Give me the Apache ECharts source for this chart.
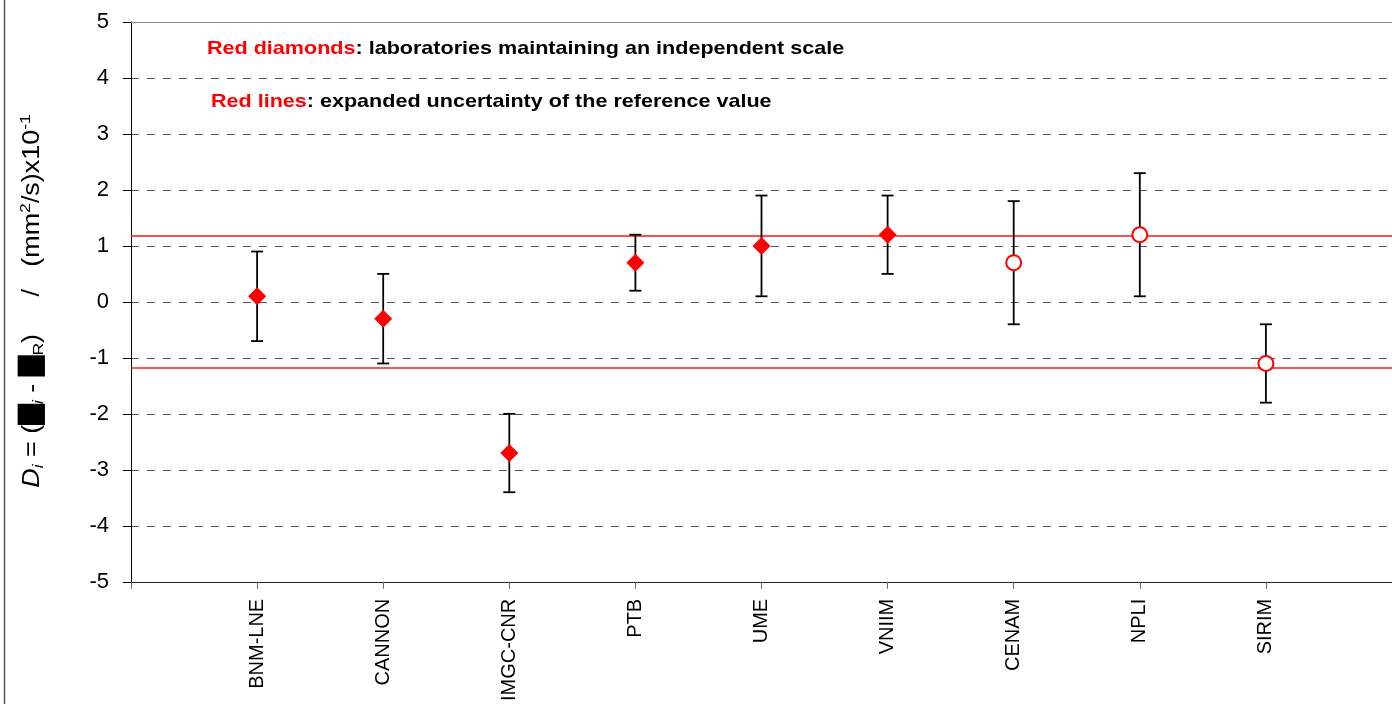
<!DOCTYPE html>
<html>
<head>
<meta charset="utf-8">
<script src="https://cdn.jsdelivr.net/npm/echarts@6/dist/echarts.min.js"></script>
<style>
html,body{margin:0;padding:0;background:#fff;}
#chart{width:1392px;height:704px;}
</style>
</head>
<body>
<div id="chart"></div>
<script>
const labs = ['BNM-LNE','CANNON','IMGC-CNR','PTB','UME','VNIIM','CENAM','NPLI','SIRIM'];
const values = [0.1, -0.3, -2.7, 0.7, 1.0, 1.2, 0.7, 1.2, -1.1];
const upper = [0.9, 0.5, -2.0, 1.2, 1.9, 1.9, 1.8, 2.3, -0.4];
const lower = [-0.7, -1.1, -3.4, 0.2, 0.1, 0.5, -0.4, 0.1, -1.8];
const independent = [true, true, true, true, true, true, false, false, false];
const refUnc = 1.18;
const yTicks = [-5, -4, -3, -2, -1, 0, 1, 2, 3, 4, 5];

const cats = [''].concat(labs).concat(['']);
const errData = labs.map((l, i) => [i + 1, lower[i], upper[i]]);
const diamonds = [];
const circles = [];
labs.forEach((l, i) => {
  if (independent[i]) diamonds.push([i + 1, values[i]]);
  else circles.push([i + 1, values[i]]);
});

const FONT = '"Liberation Sans", Arial, sans-serif';
const chart = echarts.init(document.getElementById('chart'));
chart.setOption({
  animation: false,
  backgroundColor: '#fff',
  grid: { left: 131, right: 0, top: 22, bottom: 121, containLabel: false },
  xAxis: [{
    type: 'category',
    data: cats,
    boundaryGap: false,
    axisLine: { onZero: false, lineStyle: { color: '#222', width: 1 } },
    axisTick: { show: true, length: 7, lineStyle: { color: '#666' } },
    axisLabel: { rotate: 90, fontSize: 20, color: '#000', fontFamily: FONT, margin: 17, interval: 0 },
    splitLine: { show: false }
  }, {
    type: 'category',
    data: cats,
    position: 'top',
    boundaryGap: false,
    axisLine: { onZero: false, lineStyle: { color: '#888', width: 1 } },
    axisTick: { show: false },
    axisLabel: { show: false }
  }],
  yAxis: {
    type: 'value',
    min: -5, max: 5, interval: 1,
    axisLine: { show: true, onZero: false, lineStyle: { color: '#000', width: 1 } },
    axisTick: { show: true, length: 8, lineStyle: { color: '#000' } },
    axisLabel: {
      fontSize: 22, color: '#000', fontFamily: FONT, margin: 22,
      formatter: v => yTicks.indexOf(v) >= 0 ? String(v) : ''
    },
    splitLine: { show: true, lineStyle: { color: '#555', type: [8, 8], width: 1 } }
  },
  series: [
    {
      type: 'custom',
      name: 'err',
      silent: true,
      z: 3,
      data: errData,
      renderItem: function (params, api) {
        const x = api.value(0);
        const lo = api.coord([x, api.value(1)]);
        const hi = api.coord([x, api.value(2)]);
        const w = 6;
        const st = { stroke: '#000', lineWidth: 1.8 };
        return {
          type: 'group',
          children: [
            { type: 'line', shape: { x1: lo[0], y1: lo[1], x2: hi[0], y2: hi[1] }, style: st },
            { type: 'line', shape: { x1: lo[0] - w, y1: lo[1], x2: lo[0] + w, y2: lo[1] }, style: st },
            { type: 'line', shape: { x1: hi[0] - w, y1: hi[1], x2: hi[0] + w, y2: hi[1] }, style: st }
          ]
        };
      },
      markLine: {
        silent: true,
        symbol: 'none',
        label: { show: false },
        lineStyle: { color: '#ff1a1a', type: 'solid', width: 1.6 },
        data: [{ yAxis: refUnc }, { yAxis: -refUnc }],
        z: 2
      }
    },
    {
      type: 'scatter',
      name: 'independent',
      symbol: 'diamond',
      symbolSize: 18,
      z: 5,
      itemStyle: { color: '#ff0000', opacity: 1 },
      data: diamonds
    },
    {
      type: 'scatter',
      name: 'other',
      symbol: 'circle',
      symbolSize: 15,
      z: 5,
      itemStyle: { color: '#fff', borderColor: '#ff0000', borderWidth: 2, opacity: 1 },
      data: circles
    }
  ],
  graphic: [
    {
      type: 'line',
      shape: { x1: 4.5, y1: 0, x2: 4.5, y2: 704 },
      style: { stroke: '#555', lineWidth: 1.5 }
    },
    {
      type: 'text',
      x: 33, y: 301,
      rotation: Math.PI / 2,
      scaleX: 1.17,
      style: {
        text: '{it|D}{subi|i}{n| = (}{blk|█}{subi|i}{n| - }{blk|█}{sub|R}{n|)     /   (mm}{sup|2}{n|/s)x10}{sup|-1}',
        align: 'center',
        verticalAlign: 'middle',
        rich: {
          it: { fontSize: 23, fontStyle: 'italic', fontFamily: FONT, lineHeight: 30, verticalAlign: 'middle', fill: '#000' },
          n: { fontSize: 23, fontFamily: FONT, lineHeight: 30, verticalAlign: 'middle', fill: '#000' },
          blk: { fontSize: 23, fontFamily: '"DejaVu Sans", sans-serif', lineHeight: 30, verticalAlign: 'middle', fill: '#000' },
          sub: { fontSize: 15, fontFamily: FONT, lineHeight: 15, verticalAlign: 'bottom', padding: [0, 0, 2, 0], fill: '#000' },
          subi: { fontSize: 15, fontStyle: 'italic', fontFamily: FONT, lineHeight: 15, verticalAlign: 'bottom', padding: [0, 0, 2, 0], fill: '#000' },
          sup: { fontSize: 15, fontFamily: FONT, lineHeight: 15, verticalAlign: 'top', fill: '#000' }
        }
      }
    },
    {
      type: 'text',
      x: 207, y: 39,
      scaleX: 1.165,
      style: {
        text: '{r|Red diamonds}{b|: laboratories maintaining an independent scale}',
        verticalAlign: 'top',
        rich: {
          r: { fill: '#ff0000', fontSize: 18.5, fontWeight: 'bold', fontFamily: FONT },
          b: { fill: '#000', fontSize: 18.5, fontWeight: 'bold', fontFamily: FONT }
        }
      }
    },
    {
      type: 'text',
      x: 211, y: 92,
      scaleX: 1.165,
      style: {
        text: '{r|Red lines}{b|: expanded uncertainty of the reference value}',
        verticalAlign: 'top',
        rich: {
          r: { fill: '#ff0000', fontSize: 18.5, fontWeight: 'bold', fontFamily: FONT },
          b: { fill: '#000', fontSize: 18.5, fontWeight: 'bold', fontFamily: FONT }
        }
      }
    }
  ]
});
</script>
</body>
</html>
